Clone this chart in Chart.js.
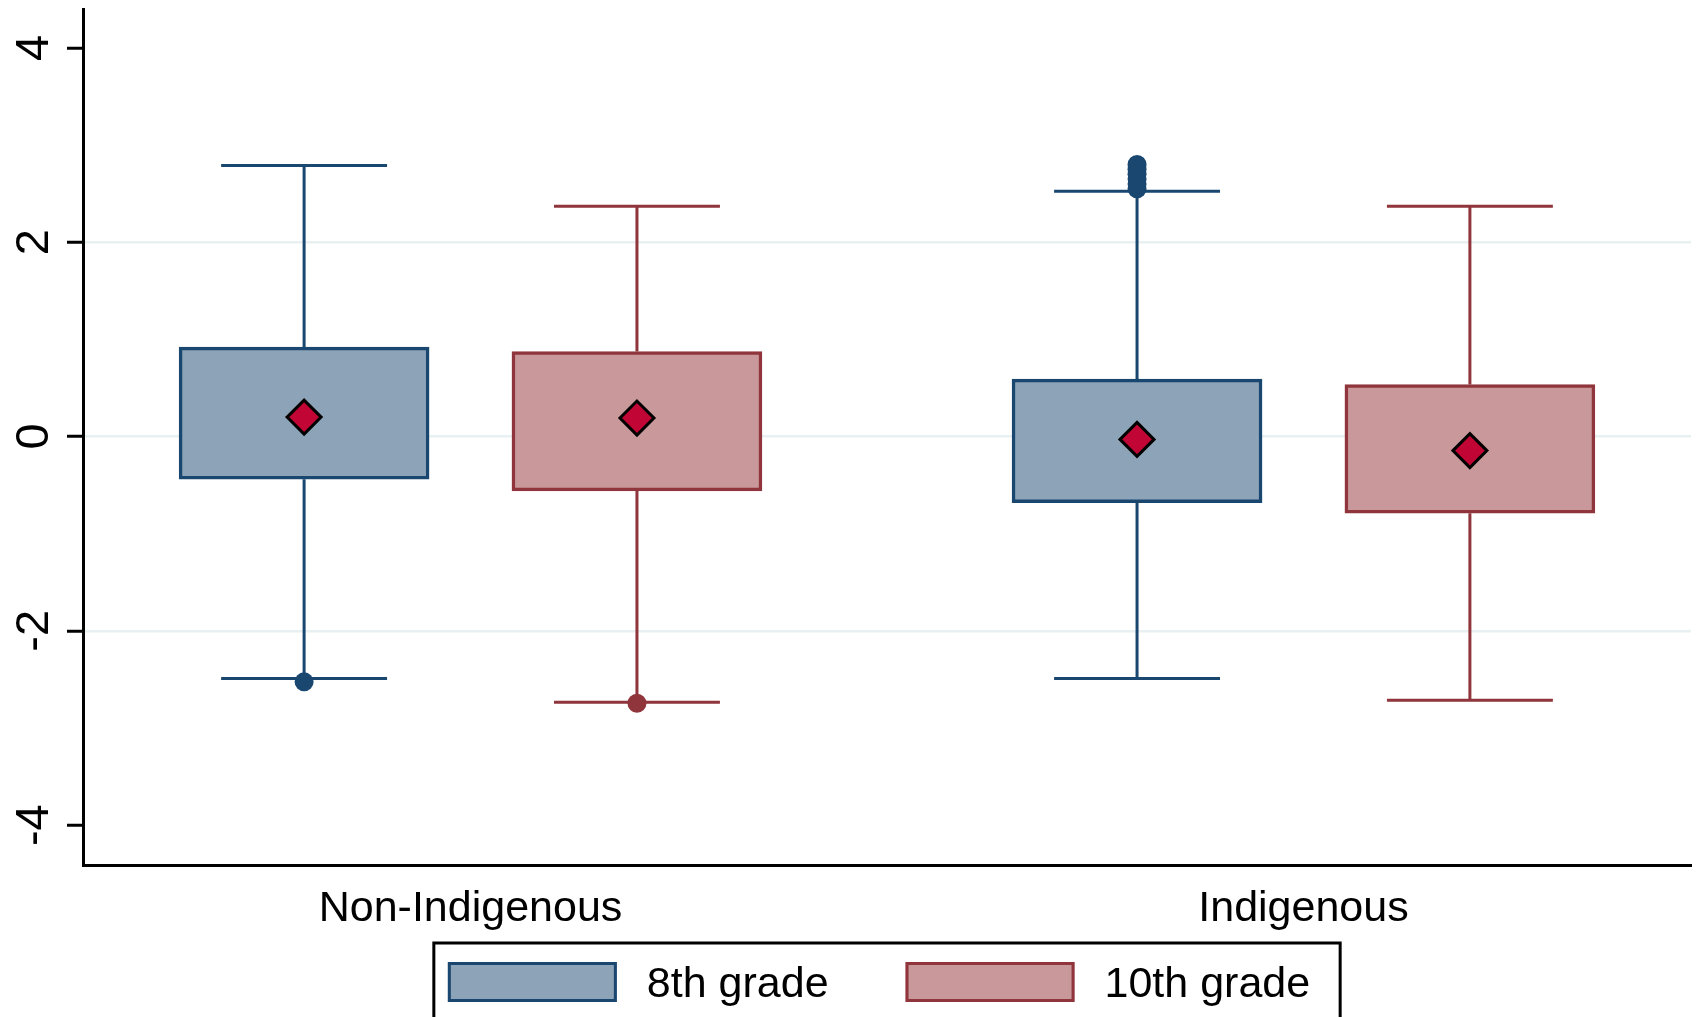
<!DOCTYPE html>
<html>
<head>
<meta charset="utf-8">
<script src="https://cdn.jsdelivr.net/npm/chart.js@4.4.1/dist/chart.umd.min.js"></script>
<style>
  html, body { margin: 0; padding: 0; background: #fff; }
  #wrap { width: 1698px; height: 1017px; }
</style>
</head>
<body>
<div id="wrap"><canvas id="boxChart"></canvas></div>
<script>
// --- data ---
const groups = ['Non-Indigenous', 'Indigenous'];
const seriesNames = ['8th grade', '10th grade'];
const yTicks = [-4, -2, 0, 2, 4];

const q1_8th = [-0.44, -0.68];
const q3_8th = [0.92, 0.59];
const lowWhisker_8th = [-2.49, -2.49];
const highWhisker_8th = [2.79, 2.525];
const mean_8th = [0.20, -0.03];
const outliers_8th = [[-2.525], [2.55, 2.60, 2.65, 2.70, 2.75, 2.80]];

const q1_10th = [-0.56, -0.79];
const q3_10th = [0.875, 0.535];
const lowWhisker_10th = [-2.735, -2.715];
const highWhisker_10th = [2.37, 2.37];
const mean_10th = [0.19, -0.145];
const outliers_10th = [[-2.745], []];

// --- layout / style ---
const FONT = "'Liberation Sans', Arial, sans-serif";
const groupX = [24.1, 75.9];        // group centres on a 0..100 x scale
const seriesOffset = [-10.35, 10.35];
const capHalf = 5.16;
const blue = '#1A476F', blueFill = '#8DA3B8';
const red = '#90353B', redFill = '#C8989A';
const meanFill = '#C10534';

function boxData(q1, q3, s) {
  return groups.map((g, i) => ({ x: groupX[i] + seriesOffset[s], y: [q1[i], q3[i]] }));
}

function whiskerData(q1, q3, lo, hi, s) {
  const pts = [];
  groups.forEach((g, i) => {
    const c = groupX[i] + seriesOffset[s];
    pts.push({ x: c, y: q3[i] }, { x: c, y: hi[i] }, { x: c, y: null });
    pts.push({ x: c, y: q1[i] }, { x: c, y: lo[i] }, { x: c, y: null });
    pts.push({ x: c - capHalf, y: hi[i] }, { x: c + capHalf, y: hi[i] }, { x: c, y: null });
    pts.push({ x: c - capHalf, y: lo[i] }, { x: c + capHalf, y: lo[i] }, { x: c, y: null });
  });
  return pts;
}

function pointData(vals, s) {
  return groups.map((g, i) => ({ x: groupX[i] + seriesOffset[s], y: vals[i] }));
}

function outlierData(list, s) {
  const pts = [];
  list.forEach((vals, i) => vals.forEach(v => pts.push({ x: groupX[i] + seriesOffset[s], y: v })));
  return pts;
}

const whiskerStyle = { type: 'line', pointRadius: 0, borderWidth: 3, fill: false, order: 3 };
const meanStyle = {
  type: 'line', showLine: false, pointStyle: 'rectRot', pointRadius: 17,
  pointBackgroundColor: meanFill, pointBorderColor: '#000', pointBorderWidth: 3, order: 0
};

// rotated y tick labels and the framed legend under the plot
const extras = {
  id: 'extras',
  afterDraw(chart) {
    const { ctx, scales: { y }, chartArea } = chart;
    ctx.save();
    ctx.fillStyle = '#000';
    ctx.font = '47px ' + FONT;
    ctx.textAlign = 'center';
    ctx.textBaseline = 'alphabetic';
    yTicks.forEach(v => {
      ctx.save();
      ctx.translate(48, y.getPixelForValue(v));
      ctx.rotate(-Math.PI / 2);
      ctx.fillText(String(v), 0, 0);
      ctx.restore();
    });

    // legend
    ctx.font = '43px ' + FONT;
    ctx.textAlign = 'left';
    const boxW = 169, boxH = 40, gapText = 30, gapItem = 77;
    const widths = seriesNames.map(t => ctx.measureText(t).width);
    const itemsW = 2 * boxW + 2 * gapText + widths[0] + widths[1] + gapItem;
    const frameW = itemsW + 14 + 30;
    const frameLeft = (chartArea.left + chartArea.right) / 2 - frameW / 2;
    const frameTop = chartArea.bottom + 78;
    ctx.strokeStyle = '#000';
    ctx.lineWidth = 3;
    ctx.strokeRect(frameLeft, frameTop, frameW, 200);
    let x = frameLeft + 14;
    const boxTop = frameTop + 19;
    seriesNames.forEach((name, i) => {
      const ds = chart.data.datasets[i];
      ctx.fillStyle = ds.backgroundColor;
      ctx.fillRect(x, boxTop, boxW, boxH);
      ctx.strokeStyle = ds.borderColor;
      ctx.lineWidth = 3;
      ctx.strokeRect(x + 1.5, boxTop + 1.5, boxW - 3, boxH - 3);
      x += boxW + gapText;
      ctx.fillStyle = '#000';
      ctx.fillText(name, x, boxTop + boxH / 2 + 15);
      x += widths[i] + gapItem;
    });
    ctx.restore();
  }
};

new Chart(document.getElementById('boxChart'), {
  type: 'bar',
  data: {
    datasets: [
      { label: seriesNames[0], data: boxData(q1_8th, q3_8th, 0), backgroundColor: blueFill,
        borderColor: blue, borderWidth: 3.5, borderSkipped: false, barThickness: 250, grouped: false, order: 2 },
      { label: seriesNames[1], data: boxData(q1_10th, q3_10th, 1), backgroundColor: redFill,
        borderColor: red, borderWidth: 3.5, borderSkipped: false, barThickness: 250, grouped: false, order: 2 },
      { ...whiskerStyle, label: 'w8', data: whiskerData(q1_8th, q3_8th, lowWhisker_8th, highWhisker_8th, 0), borderColor: blue },
      { ...whiskerStyle, label: 'w10', data: whiskerData(q1_10th, q3_10th, lowWhisker_10th, highWhisker_10th, 1), borderColor: red },
      { type: 'line', label: 'o8', showLine: false, data: outlierData(outliers_8th, 0), pointRadius: 9.5,
        pointBackgroundColor: blue, pointBorderWidth: 0, order: 1 },
      { type: 'line', label: 'o10', showLine: false, data: outlierData(outliers_10th, 1), pointRadius: 9.5,
        pointBackgroundColor: red, pointBorderWidth: 0, order: 1 },
      { ...meanStyle, label: 'm8', data: pointData(mean_8th, 0) },
      { ...meanStyle, label: 'm10', data: pointData(mean_10th, 1) }
    ]
  },
  options: {
    responsive: true,
    maintainAspectRatio: false,
    animation: false,
    events: [],
    layout: { autoPadding: false, padding: { top: 9, right: 7, bottom: 74, left: 0 } },
    scales: {
      x: {
        type: 'linear', min: 0, max: 100, offset: false,
        grid: { display: false, offset: false, drawTicks: false },
        border: { display: true, color: '#000', width: 3 },
        afterBuildTicks: s => { s.ticks = groupX.map(v => ({ value: v })); },
        afterFit: s => { s.height = 78; },
        ticks: {
          autoSkip: false, maxRotation: 0, padding: 18, color: '#000',
          font: { size: 43, family: FONT },
          callback: (v, i) => groups[i]
        }
      },
      y: {
        min: -4.41, max: 4.40,
        afterBuildTicks: s => { s.ticks = yTicks.map(v => ({ value: v })); },
        afterFit: s => { s.width = 83; },
        border: { display: true, color: '#000', width: 3 },
        grid: {
          color: c => [-2, 0, 2].includes(c.tick && c.tick.value) ? '#E8F0F2' : 'rgba(0,0,0,0)',
          lineWidth: 2.5,
          tickColor: '#000', tickWidth: 3, tickLength: 16
        },
        ticks: { display: false }
      }
    },
    plugins: {
      tooltip: { enabled: false },
      legend: { display: false }
    }
  },
  plugins: [extras]
});
</script>
</body>
</html>
